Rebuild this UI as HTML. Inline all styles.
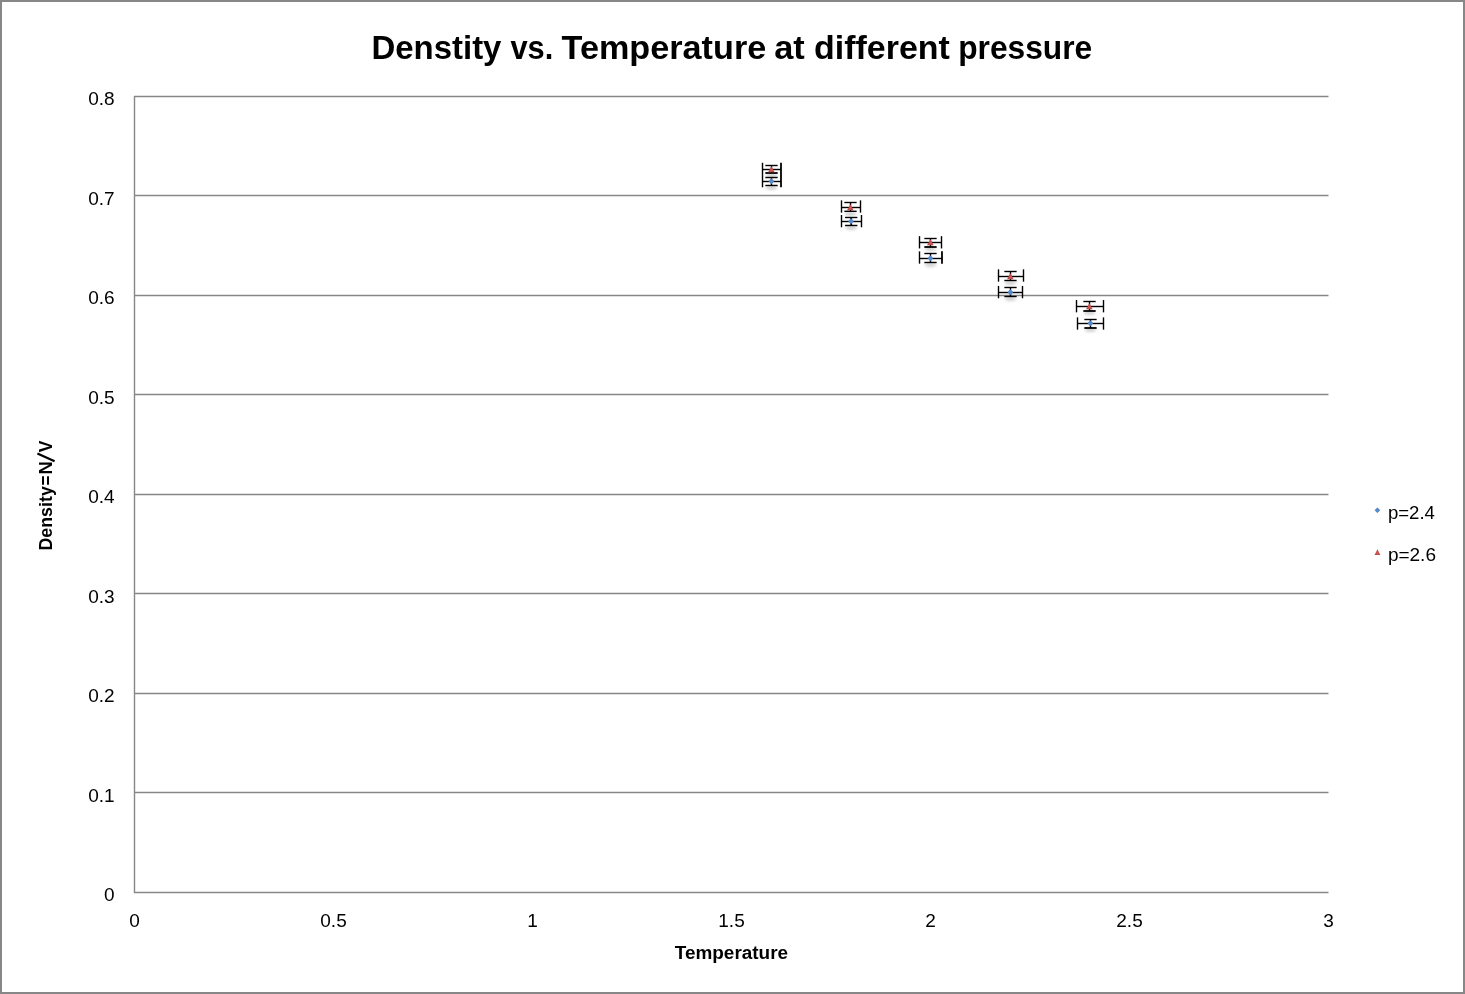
<!DOCTYPE html>
<html><head><meta charset="utf-8"><title>Density vs. Temperature</title>
<style>
html,body{margin:0;padding:0;background:#fff;}
body{width:1465px;height:994px;overflow:hidden;}
svg{display:block;will-change:transform;}
text{font-family:"Liberation Sans",sans-serif;fill:#000;}
.tk{font-size:19px;}
.lg{font-size:19px;}
.ti{font-size:33.2px;font-weight:bold;}
.at{font-size:18.7px;font-weight:bold;}
</style></head>
<body>
<svg width="1465" height="994" viewBox="0 0 1465 994">
<defs>
<radialGradient id="gb" cx="50%" cy="50%" r="60%"><stop offset="0" stop-color="#5d93d4"/><stop offset="1" stop-color="#3f73b6"/></radialGradient>
<radialGradient id="gr" cx="50%" cy="60%" r="60%"><stop offset="0" stop-color="#d05b58"/><stop offset="1" stop-color="#b73f3c"/></radialGradient>
<filter id="blur" x="-50%" y="-50%" width="200%" height="200%"><feGaussianBlur stdDeviation="1.5"/></filter>
</defs>
<rect x="1" y="1" width="1463" height="992" fill="#fff" stroke="#878787" stroke-width="2"/>
<line x1="134" y1="96.5" x2="1328.5" y2="96.5" stroke="#878787" stroke-width="1.4"/>
<line x1="134" y1="195.5" x2="1328.5" y2="195.5" stroke="#878787" stroke-width="1.4"/>
<line x1="134" y1="295.5" x2="1328.5" y2="295.5" stroke="#878787" stroke-width="1.4"/>
<line x1="134" y1="394.5" x2="1328.5" y2="394.5" stroke="#878787" stroke-width="1.4"/>
<line x1="134" y1="494.5" x2="1328.5" y2="494.5" stroke="#878787" stroke-width="1.4"/>
<line x1="134" y1="593.5" x2="1328.5" y2="593.5" stroke="#878787" stroke-width="1.4"/>
<line x1="134" y1="693.5" x2="1328.5" y2="693.5" stroke="#878787" stroke-width="1.4"/>
<line x1="134" y1="792.5" x2="1328.5" y2="792.5" stroke="#878787" stroke-width="1.4"/>
<line x1="134" y1="892.5" x2="1328.5" y2="892.5" stroke="#878787" stroke-width="1.4"/>
<line x1="134.5" y1="96" x2="134.5" y2="893" stroke="#878787" stroke-width="1.4"/>
<text x="114.6" y="105" class="tk" text-anchor="end">0.8</text>
<text x="114.6" y="205" class="tk" text-anchor="end">0.7</text>
<text x="114.6" y="304" class="tk" text-anchor="end">0.6</text>
<text x="114.6" y="404" class="tk" text-anchor="end">0.5</text>
<text x="114.6" y="503" class="tk" text-anchor="end">0.4</text>
<text x="114.6" y="603" class="tk" text-anchor="end">0.3</text>
<text x="114.6" y="702" class="tk" text-anchor="end">0.2</text>
<text x="114.6" y="802" class="tk" text-anchor="end">0.1</text>
<text x="114.6" y="901" class="tk" text-anchor="end">0</text>
<text x="134.5" y="927" class="tk" text-anchor="middle">0</text>
<text x="333.5" y="927" class="tk" text-anchor="middle">0.5</text>
<text x="532.5" y="927" class="tk" text-anchor="middle">1</text>
<text x="731.5" y="927" class="tk" text-anchor="middle">1.5</text>
<text x="930.5" y="927" class="tk" text-anchor="middle">2</text>
<text x="1129.5" y="927" class="tk" text-anchor="middle">2.5</text>
<text x="1328.5" y="927" class="tk" text-anchor="middle">3</text>
<g fill="#000" opacity="0.18" filter="url(#blur)"><ellipse cx="771.5" cy="187.8" rx="6" ry="2.2"/><ellipse cx="851.2" cy="227.8" rx="6" ry="2.2"/><ellipse cx="930.5" cy="264.8" rx="6" ry="2.2"/><ellipse cx="1010.5" cy="298.8" rx="6" ry="2.2"/><ellipse cx="1090.5" cy="329.8" rx="6" ry="2.2"/><ellipse cx="771.5" cy="175.8" rx="6" ry="2.2"/><ellipse cx="850.5" cy="213.8" rx="6" ry="2.2"/><ellipse cx="930.5" cy="248.8" rx="6" ry="2.2"/><ellipse cx="1010.5" cy="282.8" rx="6" ry="2.2"/><ellipse cx="1089.5" cy="312.8" rx="6" ry="2.2"/></g>
<g stroke="#000" fill="none" stroke-linecap="butt"><path d="M762.5,181.5H781" stroke-width="1.4"/><path d="M762.5,175.05V187.35" stroke-width="1.4"/><path d="M781,175.05V187.35" stroke-width="1.8"/><path d="M771.5,177.5V185.5" stroke-width="1.4"/><path d="M765.35,177.5H777.65" stroke-width="1.4"/><path d="M765.35,185.5H777.65" stroke-width="1.4"/><path d="M841.5,221.5H861.5" stroke-width="1.4"/><path d="M841.5,215V227.3" stroke-width="1.4"/><path d="M861.5,215V227.3" stroke-width="1.4"/><path d="M851.2,217.5V225.5" stroke-width="1.8"/><path d="M845.05,217.5H857.35" stroke-width="1.4"/><path d="M845.05,225.5H857.35" stroke-width="1.4"/><path d="M919.5,258.5H942" stroke-width="1.4"/><path d="M919.5,251.35V263.65" stroke-width="1.4"/><path d="M942,251.35V263.65" stroke-width="1.8"/><path d="M930.5,253.5V262.5" stroke-width="1.4"/><path d="M924.35,253.5H936.65" stroke-width="1.4"/><path d="M924.35,262.5H936.65" stroke-width="1.4"/><path d="M998.5,292.5H1022.5" stroke-width="1.4"/><path d="M998.5,285.95V298.25" stroke-width="1.4"/><path d="M1022.5,285.95V298.25" stroke-width="1.4"/><path d="M1010.5,287.5V296.5" stroke-width="1.4"/><path d="M1004.35,287.5H1016.65" stroke-width="1.4"/><path d="M1004.35,296.5H1016.65" stroke-width="1.4"/><path d="M1077.5,323.5H1103.5" stroke-width="1.4"/><path d="M1077.5,317.35V329.65" stroke-width="1.4"/><path d="M1103.5,317.35V329.65" stroke-width="1.4"/><path d="M1090.5,319.5V328" stroke-width="1.4"/><path d="M1084.35,319.5H1096.65" stroke-width="1.4"/><path d="M1084.35,328H1096.65" stroke-width="1.8"/><path d="M762.5,169.5H781" stroke-width="1.4"/><path d="M762.5,162.75V175.05" stroke-width="1.4"/><path d="M781,162.75V175.05" stroke-width="1.8"/><path d="M771.5,165.5V173" stroke-width="1.4"/><path d="M765.35,165.5H777.65" stroke-width="1.4"/><path d="M765.35,173H777.65" stroke-width="1.8"/><path d="M841.5,207.5H860.5" stroke-width="1.4"/><path d="M841.5,200.35V212.65" stroke-width="1.4"/><path d="M860.5,200.35V212.65" stroke-width="1.4"/><path d="M850.5,202.5V211.3" stroke-width="1.4"/><path d="M844.35,202.5H856.65" stroke-width="1.4"/><path d="M844.35,211.3H856.65" stroke-width="1.4"/><path d="M919.5,242.5H941.5" stroke-width="1.4"/><path d="M919.5,236.15V248.45" stroke-width="1.4"/><path d="M941.5,236.15V248.45" stroke-width="1.4"/><path d="M930.5,238.5V247" stroke-width="1.4"/><path d="M924.35,238.5H936.65" stroke-width="1.4"/><path d="M924.35,247H936.65" stroke-width="1.8"/><path d="M998.5,276.5H1023.5" stroke-width="1.4"/><path d="M998.5,269.35V281.65" stroke-width="1.4"/><path d="M1023.5,269.35V281.65" stroke-width="1.4"/><path d="M1010.5,271.5V280.5" stroke-width="1.4"/><path d="M1004.35,271.5H1016.65" stroke-width="1.4"/><path d="M1004.35,280.5H1016.65" stroke-width="1.4"/><path d="M1076.5,306.5H1103.5" stroke-width="1.4"/><path d="M1076.5,300.05V312.35" stroke-width="1.4"/><path d="M1103.5,300.05V312.35" stroke-width="1.4"/><path d="M1089.5,301.5V311" stroke-width="1.4"/><path d="M1083.35,301.5H1095.65" stroke-width="1.4"/><path d="M1083.35,311H1095.65" stroke-width="1.8"/></g>
<g><path d="M771.35,178.25 L774.25,181.25 L771.35,184.25 L768.45,181.25 Z" fill="url(#gb)"/><path d="M851.05,218.25 L853.95,221.25 L851.05,224.25 L848.15,221.25 Z" fill="url(#gb)"/><path d="M930.35,255.25 L933.25,258.25 L930.35,261.25 L927.45,258.25 Z" fill="url(#gb)"/><path d="M1010.35,289.25 L1013.25,292.25 L1010.35,295.25 L1007.45,292.25 Z" fill="url(#gb)"/><path d="M1090.35,320.25 L1093.25,323.25 L1090.35,326.25 L1087.45,323.25 Z" fill="url(#gb)"/><path d="M771.35,166.25 L774.6,172.25 L768.1,172.25 Z" fill="url(#gr)"/><path d="M850.35,204.25 L853.6,210.25 L847.1,210.25 Z" fill="url(#gr)"/><path d="M930.35,239.25 L933.6,245.25 L927.1,245.25 Z" fill="url(#gr)"/><path d="M1010.35,273.25 L1013.6,279.25 L1007.1,279.25 Z" fill="url(#gr)"/><path d="M1089.35,303.25 L1092.6,309.25 L1086.1,309.25 Z" fill="url(#gr)"/></g>
<text x="371.52" y="58.7" class="ti" textLength="129.92" lengthAdjust="spacingAndGlyphs">Denstity</text>
<text x="510.4" y="58.7" class="ti" textLength="42.89" lengthAdjust="spacingAndGlyphs">vs.</text>
<text x="561.6" y="58.7" class="ti" textLength="204.63" lengthAdjust="spacingAndGlyphs">Temperature</text>
<text x="774.16" y="58.7" class="ti" textLength="30.57" lengthAdjust="spacingAndGlyphs">at</text>
<text x="814.08" y="58.7" class="ti" textLength="135.79" lengthAdjust="spacingAndGlyphs">different</text>
<text x="958.19" y="58.7" class="ti" textLength="134.08" lengthAdjust="spacingAndGlyphs">pressure</text>
<text x="674.8" y="958.8" class="at" textLength="113.24" lengthAdjust="spacingAndGlyphs">Temperature</text>
<text x="1387.92" y="519" class="lg" textLength="47.06" lengthAdjust="spacingAndGlyphs">p=2.4</text>
<text x="1387.9" y="561" class="lg" textLength="48.08" lengthAdjust="spacingAndGlyphs">p=2.6</text>
<text transform="translate(51.9,550.5) rotate(-90)" x="0" y="0" class="at" textLength="64.29" lengthAdjust="spacingAndGlyphs">Density</text>
<text transform="translate(51.9,485.51) rotate(-90)" x="0" y="0" class="at" textLength="9.95" lengthAdjust="spacingAndGlyphs">=</text>
<text transform="translate(51.9,474.38) rotate(-90)" x="0" y="0" class="at" textLength="13.25" lengthAdjust="spacingAndGlyphs">N</text>
<text transform="translate(51.9,452.3) rotate(-90)" x="0" y="0" class="at" textLength="11.64" lengthAdjust="spacingAndGlyphs">V</text>
<path d="M37.4,453.5 L54.6,461.3" stroke="#000" stroke-width="2.3" stroke-linecap="butt"/>
<path d="M1377.4,507.5 L1380.2,510.3 L1377.4,513.1 L1374.6,510.3 Z" fill="url(#gb)"/>
<path d="M1377.45,549.3 L1380.35,555.1 L1374.55,555.1 Z" fill="url(#gr)"/>
</svg>
</body></html>
